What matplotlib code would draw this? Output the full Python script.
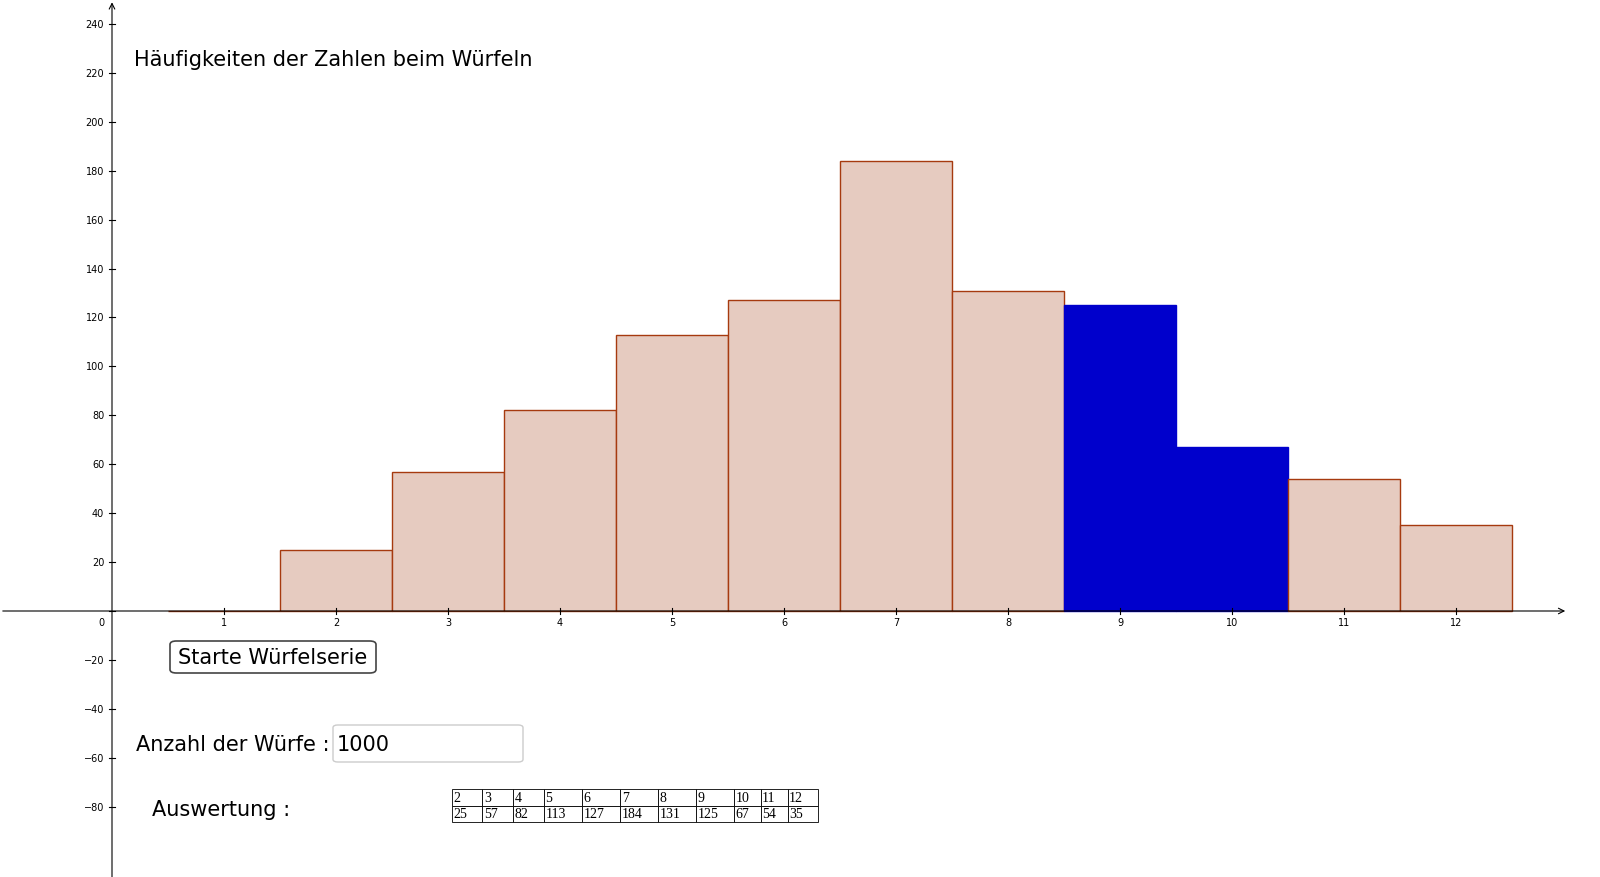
import matplotlib.pyplot as plt
from matplotlib.patches import FancyBboxPatch

# Daten: Augensumme und Häufigkeit
zahlen = [1, 2, 3, 4, 5, 6, 7, 8, 9, 10, 11, 12]
haeufigkeit = [0, 25, 57, 82, 113, 127, 184, 131, 125, 67, 54, 35]
hervorgehoben = [9, 10]
tab_kopf = ["2", "3", "4", "5", "6", "7", "8", "9", "10", "11", "12"]
tab_werte = ["25", "57", "82", "113", "127", "184", "131", "125", "67", "54", "35"]
y_ticks = list(range(-80, 241, 20))

W, H = 1600, 878
fig = plt.figure(figsize=(16, 8.78), dpi=100)
ax = fig.add_axes([0, 0, 1, 1])
ax.set_xlim(-112 / 112, (W - 112) / 112)
ax.set_ylim(-(H - 612) / 2.446, 612 / 2.446)
ax.axis("off")

for z, h in zip(zahlen, haeufigkeit):
    if z in hervorgehoben:
        ax.bar(z, h, width=1, color="#0000CC", edgecolor="#0000CC", linewidth=1, zorder=2)
    else:
        ax.bar(z, h, width=1, color="#E6CBC0", edgecolor="#A63A0F", linewidth=1, zorder=2)

# Achsen
ax.annotate("", xy=(13.0, 0), xytext=(-1.0, 0),
            arrowprops=dict(arrowstyle="->", lw=0.8, color="black"), zorder=3)
ax.annotate("", xy=(0, 250), xytext=(0, -110),
            arrowprops=dict(arrowstyle="->", lw=0.8, color="black"), zorder=3)
for z in zahlen:
    ax.plot([z, z], [-1.2, 1.2], color="black", lw=0.8, zorder=3)
    ax.text(z, -2.5, str(z), ha="center", va="top", fontsize=7)
for t in y_ticks:
    ax.plot([-0.03, 0.03], [t, t], color="black", lw=0.8, zorder=3)
    if t != 0:
        ax.text(-0.07, t, f"\u2212{abs(t)}" if t < 0 else str(t), ha="right", va="center", fontsize=7)
ax.text(-0.07, -2.5, "0", ha="right", va="top", fontsize=7)

def px(x, y):
    return x / W, 1 - y / H

fig.text(*px(134, 60), "Häufigkeiten der Zahlen beim Würfeln", fontsize=15, va="center")

# Knopf
b = FancyBboxPatch(px(170, 674), 206 / W, 32 / H, boxstyle="round,pad=0,rounding_size=0.004",
                   transform=fig.transFigure, facecolor="white", edgecolor="#444444", lw=1.2)
fig.add_artist(b)
fig.text(*px(273, 658), "Starte Würfelserie", fontsize=15, ha="center", va="center")

# Eingabefeld
fig.text(*px(330, 745), "Anzahl der Würfe :", fontsize=15, va="center", ha="right")
e = FancyBboxPatch(px(333, 763), 190 / W, 37 / H, boxstyle="round,pad=0,rounding_size=0.003",
                   transform=fig.transFigure, facecolor="white", edgecolor="#cccccc", lw=1)
fig.add_artist(e)
fig.text(*px(337, 745), "1000", fontsize=15, va="center")

fig.text(*px(152, 810), "Auswertung :", fontsize=15, va="center")

# Tabelle
x0, x1, y0, y1 = 452, 818, 790, 823
tab = ax.table(cellText=[tab_kopf, tab_werte], cellLoc="left",
               bbox=[x0 / W, 1 - y1 / H, (x1 - x0) / W, (y1 - y0) / H],
               colWidths=[0.8, 0.8, 0.8, 1.0, 1.0, 1.0, 1.0, 1.0, 0.7, 0.7, 0.8])
tab.auto_set_font_size(False)
for cell in tab.get_celld().values():
    cell.set_linewidth(0.6)
    cell.get_text().set_fontsize(10)
    cell.get_text().set_fontfamily("Liberation Serif")
    cell.PAD = 0.05

fig.savefig("out.png", dpi=100)
